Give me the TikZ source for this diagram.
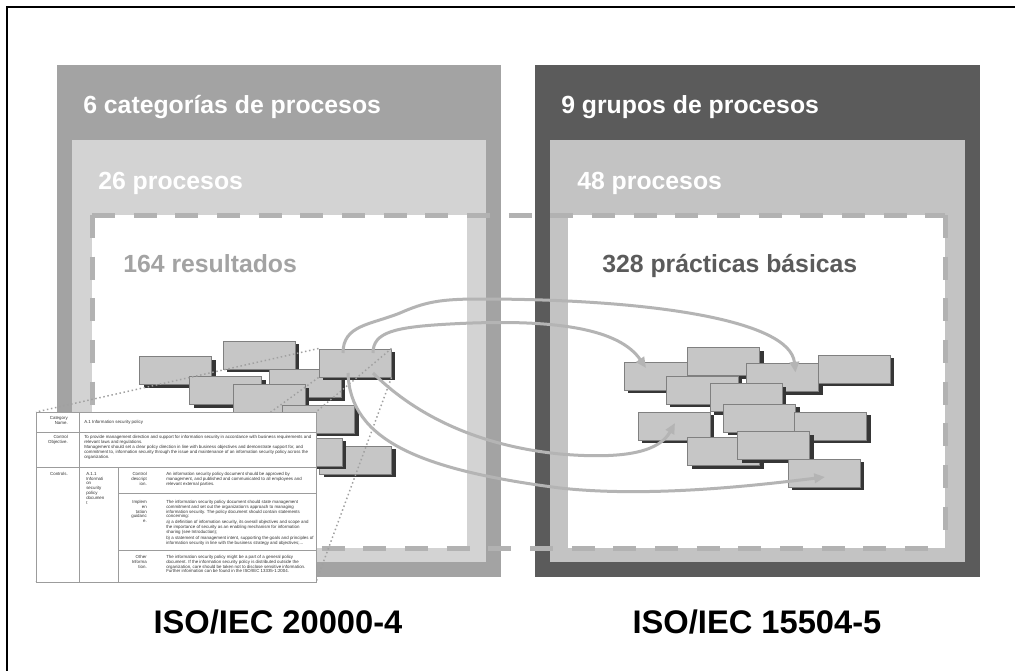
\documentclass[tikz,border=0pt]{standalone}
\usepackage{fontspec}
\setmainfont{Liberation Sans}
\usetikzlibrary{arrows.meta,calc,shadows}

\definecolor{catgray}{HTML}{A3A3A3}
\definecolor{procgray}{HTML}{D3D3D3}
\definecolor{grpgray}{HTML}{5B5B5B}
\definecolor{bpgray}{HTML}{C3C3C3}
\definecolor{dashgray}{HTML}{B2B2B2}
\definecolor{boxfill}{HTML}{C6C6C6}
\definecolor{boxedge}{HTML}{808080}
\definecolor{boxshadow}{HTML}{363636}
\definecolor{arrowgray}{HTML}{B4B4B4}
\definecolor{dotgray}{HTML}{A0A0A0}
\definecolor{rulegray}{HTML}{9C9C9C}

\begin{document}
\begin{tikzpicture}[x=0.75pt,y=-0.75pt,
  blk/.style={draw=boxedge, fill=boxfill, line width=0.75pt, minimum width=54pt, minimum height=21pt, inner sep=0pt,
    drop shadow={shadow xshift=3pt, shadow yshift=-2.6pt, fill=boxshadow, opacity=1}},
  flow/.style={arrowgray, line width=2.25pt, -{Triangle[length=8pt,width=7pt]}},
  zoomline/.style={dotgray, line width=1.1pt, dotted},
  frameline/.style={dashgray, line width=3.75pt, dash pattern=on 17.25pt off 14pt},
  title/.style={anchor=base west, inner sep=0pt, font=\bfseries\fontsize{18.6}{20}\selectfont},
  std/.style={anchor=base, inner sep=0pt, font=\bfseries\fontsize{24.5}{26}\selectfont},
  rule/.style={rulegray, line width=0.6pt},
  tiny/.style={inner sep=0pt, text=black!80, font=\fontsize{3.3}{3.6}\selectfont}
]
\useasboundingbox (0,0) rectangle (1015,671);
\draw[line width=1.5pt] (6.5,671) -- (6.5,7) -- (1015,7);

% ISO/IEC 20000-4
\fill[catgray] (57,65) rectangle (501,577);
\fill[procgray] (72,140) rectangle (486,562);
\fill[white] (92,215) rectangle (467,548);
% ISO/IEC 15504-5
\fill[grpgray] (535,65) rectangle (980,577);
\fill[bpgray] (550,140) rectangle (965,562);
\fill[white] (568,215) rectangle (945,548);

% dashed band round the results / practices
\draw[frameline] (92,215) -- (945,215);
\draw[frameline, dash phase=15.15pt] (92,548) -- (945,548);
\draw[frameline] (92,215) -- (92,548);
\draw[frameline] (945,215) -- (945,548);

\node[title, text=white] (cat) at (83,113) {6 categorías de procesos};
\node[title, text=white] (proc) at (98,189) {26 procesos};
\node[title, text=catgray] (res) at (123,272) {164 resultados};
\node[title, text=white] (grp) at (561,113) {9 grupos de procesos};
\node[title, text=white] (proc2) at (577,189) {48 procesos};
\node[title, text=grpgray] (bp) at (602,272) {328 prácticas básicas};

% outcomes
\foreach \n/\x/\y in {A/175.5/370.5, B/259/355, C/225.5/390.5, D/305/383.5, E/269/398.5,
    F/355/363, G/318.5/419, I/355.5/460, H/306/452}
  \node[blk] (\n) at (\x,\y) {};
% base practices
\foreach \n/\x/\y in {R1/660/376, R2/723.5/361.5, R3/782.5/377.5, R4/854/369, R5/702/390,
    R6/746/397.5, R7/674/426, R8/759.5/418, R9/830.5/426, R10/723.5/451.5,
    R11/773.5/445.5, R12/824/473}
  \node[blk] (\n) at (\x,\y) {};

% zoom on one outcome
\coordinate (docnw) at (36,412);
\coordinate (docse) at (316,582);
\draw[zoomline] (F.north west) -- (docnw);
\draw[zoomline] (F.north east) -- (docse |- docnw);
\draw[zoomline] (F.south west) -- (docnw |- docse);
\draw[zoomline] (F.south east) -- (docse);

% mappings
\draw[flow] ($(F.center)+(-12,-10)$) .. controls (343,325) and (370,325) .. (400,313)
  .. controls (425,302) and (440,299) .. (480,299)
  .. controls (650,299) and (790,320) .. ($(R3.north east)+(-23.5,9.5)$);
\draw[flow] ($(F.center)+(18,-10)$) .. controls (373,332) and (395,327) .. (450,324)
  .. controls (560,318) and (620,330) .. ($(R1.center)+(-14,-8)$);
\draw[flow] ($(F.center)+(18,10)$) .. controls (410,410) and (470,445) .. (560,454)
  .. controls (630,460) and (660,450) .. ($(R7.center)+(1,-3)$);
\draw[flow] ($(F.center)+(-7,10)$) .. controls (350,440) and (420,470) .. (560,488)
  .. controls (650,498) and (760,485) .. ($(R12.center)+(1,4)$);

% the outcome sheet
\draw[rule, fill=white] (docnw) rectangle (docse);
\draw[rule] (36,432) -- (316,432);
\draw[rule] (36,467) -- (316,467);
\draw[rule] (118,493) -- (316,493);
\draw[rule] (118,550) -- (316,550);
\draw[rule] (79,412) -- (79,582);
\draw[rule] (118,467) -- (118,582);

\node[tiny, anchor=north east, align=right] (t1) at (68,416) {Category\\Name.};
\node[tiny, anchor=north west, align=left] (t2) at (84,420.5) {A.1 Information security policy};
\node[tiny, anchor=north east, align=right] (t3) at (68,435) {Control\\Objective.};
\node[tiny, anchor=north west, align=left] (t4) at (84,435) {To provide management direction and support for information security in accordance with business requirements and\\
  relevant laws and regulations.\\[0.6pt]
  Management should set a clear policy direction in line with business objectives and demonstrate support for, and\\
  commitment to, information security through the issue and maintenance of an information security policy across the\\
  organization.};
\node[tiny, anchor=north east, align=right] (t5) at (68,472) {Controls.};
\node[tiny, anchor=north west, align=left] (t6) at (86,472) {A.1.1\\Informati\\on\\security\\policy\\documen\\t};
\node[tiny, anchor=north east, align=right] (t7) at (147,472) {Control\\descript\\ion.};
\node[tiny, anchor=north west, align=left] (t8) at (166,472.5) {An information security policy document should be approved by\\
  management, and published and communicated to all employees and\\
  relevant external parties.};
\node[tiny, anchor=north east, align=right] (t9) at (147,500) {Implem\\en\\tation\\guidanc\\e.};
\node[tiny, anchor=north west, align=left] (t10) at (166,500) {The information security policy document should state management\\
  commitment and set out the organization's approach to managing\\
  information security. The policy document should contain statements\\
  concerning:\\[1pt]
  a) a definition of information security, its overall objectives and scope and\\
  the importance of security as an enabling mechanism for information\\
  sharing (see Introduction);\\[1pt]
  b) a statement of management intent, supporting the goals and principles of\\
  information security in line with the business strategy and objectives;...};
\node[tiny, anchor=north east, align=right] (t11) at (147,555) {Other\\Informa\\tion.};
\node[tiny, anchor=north west, align=left] (t12) at (166,555) {The information security policy might be a part of a general policy\\
  document. If the information security policy is distributed outside the\\
  organization, care should be taken not to disclose sensitive information.\\
  Further information can be found in the ISO/IEC 13335-1:2004.};

\node[std] (iso1) at (278,633) {ISO/IEC 20000-4};
\node[std] (iso2) at (757,633) {ISO/IEC 15504-5};
\end{tikzpicture}
\end{document}
